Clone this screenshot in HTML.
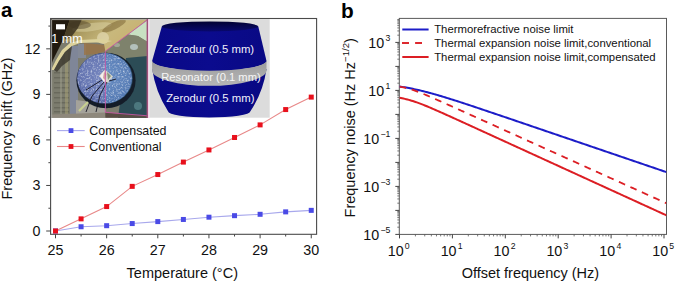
<!DOCTYPE html>
<html><head><meta charset="utf-8"><style>html,body{margin:0;padding:0;background:#fff;}body{width:675px;height:281px;overflow:hidden;}svg{display:block;}svg,text{font-family:"Liberation Sans",sans-serif;}</style></head>
<body>
<svg width="675" height="281" viewBox="0 0 675 281" font-family="Liberation Sans, sans-serif">
<rect width="675" height="281" fill="#fff"/>
<defs><radialGradient id="disk" cx="0.5" cy="0.45" r="0.55"><stop offset="0" stop-color="#7888c0"/><stop offset="0.75" stop-color="#6676b2"/><stop offset="1" stop-color="#5868a6"/></radialGradient><linearGradient id="gold" x1="0" y1="0" x2="1" y2="0.4"><stop offset="0" stop-color="#665836"/><stop offset="0.3" stop-color="#a8985e"/><stop offset="0.65" stop-color="#c8b87c"/><stop offset="1" stop-color="#c8b070"/></linearGradient><linearGradient id="leftg" x1="0" y1="0" x2="0" y2="1"><stop offset="0" stop-color="#4d4a3a"/><stop offset="1" stop-color="#6e6e68"/></linearGradient><linearGradient id="band" x1="0" y1="0" x2="0" y2="1"><stop offset="0" stop-color="#9a9a9a"/><stop offset="0.5" stop-color="#a9a9a9"/><stop offset="1" stop-color="#b6b6b6"/></linearGradient><filter id="speck" x="0" y="0" width="100%" height="100%"><feTurbulence type="fractalNoise" baseFrequency="0.55" numOctaves="2" seed="4" result="n"/><feColorMatrix in="n" type="matrix" values="0 0 0 0 0.8  0 0 0 0 0.84  0 0 0 0 0.9  1.7 0 0 0 -0.8" result="m"/><feComposite in="m" in2="SourceGraphic" operator="in"/></filter><clipPath id="photo"><rect x="51" y="19" width="96.7" height="98.7"/></clipPath><linearGradient id="body" x1="0" y1="0" x2="1" y2="0"><stop offset="0" stop-color="#090986"/><stop offset="0.5" stop-color="#0b0b8e"/><stop offset="1" stop-color="#090984"/></linearGradient><linearGradient id="body2" x1="0" y1="0" x2="1" y2="0"><stop offset="0" stop-color="#080884"/><stop offset="0.5" stop-color="#0b0b8e"/><stop offset="1" stop-color="#080882"/></linearGradient><linearGradient id="topface" x1="0" y1="0" x2="0" y2="1"><stop offset="0" stop-color="#020232"/><stop offset="1" stop-color="#08086e"/></linearGradient></defs>
<g clip-path="url(#photo)">
<rect x="51" y="19" width="97" height="99" fill="#7c7c6e"/>
<rect x="54" y="72" width="15" height="1.4" fill="#5a5a4e" opacity="0.55"/>
<rect x="54" y="77" width="15" height="1.4" fill="#5a5a4e" opacity="0.55"/>
<rect x="54" y="82" width="15" height="1.4" fill="#5a5a4e" opacity="0.55"/>
<rect x="54" y="87" width="15" height="1.4" fill="#5a5a4e" opacity="0.55"/>
<rect x="54" y="92" width="15" height="1.4" fill="#5a5a4e" opacity="0.55"/>
<rect x="54" y="97" width="15" height="1.4" fill="#5a5a4e" opacity="0.55"/>
<rect x="54" y="102" width="15" height="1.4" fill="#5a5a4e" opacity="0.55"/>
<rect x="54" y="107" width="15" height="1.4" fill="#5a5a4e" opacity="0.55"/>
<rect x="54" y="111" width="15" height="1.4" fill="#5a5a4e" opacity="0.55"/>
<rect x="60" y="60" width="2" height="54" fill="#a0a08c" opacity="0.5"/>
<rect x="65" y="52" width="3" height="62" fill="#b0a878" opacity="0.45"/>
<rect x="70" y="46" width="8" height="68" fill="#8088a0" opacity="0.85"/>
<rect x="78" y="44" width="8" height="14" fill="#8890a8" opacity="0.7"/>
<path d="M84 43 L105.4 45 V51.2 L96 54 L84 55 Z" fill="#9a7448" opacity="0.85"/>
<path d="M64 19 H147.7 L128 34.4 L105.4 51.2 L104 44 L96 41 L80 41 L70 42 L62 40 Z" fill="url(#gold)"/>
<ellipse cx="92" cy="27" rx="20" ry="4" fill="#d8d0a0" opacity="0.55" transform="rotate(-8 92 27)"/>
<ellipse cx="114" cy="26" rx="13" ry="3.5" fill="#6e5628" opacity="0.45" transform="rotate(-25 114 26)"/>
<ellipse cx="103" cy="38" rx="6" ry="6" fill="#e2d8b0" opacity="0.7"/>
<ellipse cx="80" cy="25" rx="11" ry="4" fill="#4e4028" opacity="0.45"/>
<path d="M51 70 L56 60 L62 50 L70 43 L80 40 L100 39 L112 41 L104 43 L96 42.5 L80 43 L72 46 L65 52 L59 61 L54 70 Z" fill="#dcd29c"/>
<path d="M51 19 H70 L67 28 L64 37 L61 44 L57 52 L53 60 L51 66 Z" fill="#211a10"/>
<path d="M70 19 H82 L78 28 L72 36 L66 40 L64 37 L67 28 Z" fill="#3c3220" opacity="0.85"/>
<path d="M54 70 L59 61 L65 52 L72 46 L70 60 L62 66 L57 72 Z" fill="#3a362c" opacity="0.8"/>
<path d="M147.6 19.8 L147.7 42 L138 36 L128 34.4 Z" fill="#c8e0c2"/>
<path d="M128 34.4 L138 36 L147.7 42 V58 L140 63 L120 58 L110 53 L105.4 51.2 Z" fill="#7e826c"/>
<ellipse cx="134" cy="47" rx="4" ry="3" fill="#c0d0d0" opacity="0.8"/>
<ellipse cx="117" cy="45" rx="3" ry="2" fill="#b8c0b0" opacity="0.6"/>
<path d="M126 58 L147.7 56 V118 H118 Z" fill="#2c4c56"/>
<ellipse cx="138" cy="106" rx="4" ry="4" fill="#5a8a90" opacity="0.7"/>
<path d="M76 100 L105.4 104 V113 L76 115 Z" fill="#a4a29a"/>
<path d="M51 114.5 L105.4 112.6 V118 H51 Z" fill="#8e887c"/>
<path d="M105.4 112.6 L147.7 116 V118 H105.4 Z" fill="#5a4c44"/>
<ellipse cx="106" cy="80.5" rx="29.6" ry="27.8" fill="#141c28"/>
<ellipse cx="104.6" cy="78.3" rx="27.5" ry="25.3" fill="url(#disk)"/>
<path d="M105.4 53 A27.5 25.3 0 0 1 105.4 103.6 Z" fill="#4898c8" opacity="0.32"/>
<ellipse cx="104.6" cy="78.3" rx="27" ry="24.8" fill="#000" filter="url(#speck)"/>
<path d="M99 76 L105 69.5 L113 76.5 L106.5 84 Z" fill="#d8d6cc"/>
<path d="M100 76 L104 71 L106 78 L104 82 Z" fill="#f4f0ee"/>
<path d="M104 72 L106.5 74 L105 80 L103 78 Z" fill="#c89088" opacity="0.8"/>
<path d="M107 72 L111 76 L108 80 Z" fill="#607a58" opacity="0.7"/>
<path d="M104 82 L92 96 L86 112 M107 82 L100 95 L96 112 M109 81 L116 79 M102 80 L86 90" stroke="#141420" stroke-width="0.9" fill="none"/>
<path d="M79 111 L88 102" stroke="#c8d090" stroke-width="2.2" fill="none"/>
</g>
<path d="M51.6 118 V19.6 H147.7" stroke="#b8b8b0" stroke-width="0.9" fill="none"/>
<rect x="56" y="24.2" width="9" height="5.2" fill="#fff"/>
<text x="51.3" y="42.7" font-size="12.5" fill="#fff">1 mm</text>
<path d="M147.6 19.8 L105.4 51.2 V112.3 L147.6 115.8" stroke="#cc55a6" stroke-width="1" opacity="0.85" fill="none"/>
<rect x="146.6" y="19" width="1.6" height="99" fill="#a0507a"/>
<rect x="148.2" y="19" width="1.2" height="99" fill="#f0d0e8"/>
<rect x="149.4" y="19.3" width="120.3" height="98.4" fill="#dcdcdc"/>
<path d="M161.8 26.4 L152.1 61 A57.2 9.9 0 0 0 266.5 61 L258.3 26.4 Z" fill="url(#body)"/>
<ellipse cx="210" cy="26.4" rx="48.2" ry="5" fill="url(#topface)"/>
<path d="M152.2 69 Q155.5 92 168 111.3 A41.2 6.2 0 0 0 250.4 111.3 Q263.2 92 266.5 69 Z" fill="url(#body2)"/>
<path d="M152.1 60.5 A57.2 10.3 0 0 0 266.5 60.5 L266.5 70.4 A57.2 15.4 0 0 1 152.1 70.4 Z" fill="url(#band)"/>
<text x="210" y="52.6" font-size="11.35" fill="#f0f0fa" text-anchor="middle">Zerodur (0.5 mm)</text>
<text x="211" y="80.7" font-size="11.2" fill="#f6f6f6" text-anchor="middle">Resonator (0.1 mm)</text>
<text x="210.3" y="102" font-size="11.35" fill="#f0f0fa" text-anchor="middle">Zerodur (0.5 mm)</text>
<rect x="50.6" y="18.5" width="266.0" height="215.8" fill="none" stroke="#4a4a4a" stroke-width="1.1"/>
<line x1="46.2" y1="231.00" x2="50.6" y2="231.00" stroke="#444" stroke-width="1"/>
<text x="40.4" y="235.90" font-size="14.3" text-anchor="end" fill="#111">0</text>
<line x1="46.2" y1="185.46" x2="50.6" y2="185.46" stroke="#444" stroke-width="1"/>
<text x="40.4" y="190.36" font-size="14.3" text-anchor="end" fill="#111">3</text>
<line x1="46.2" y1="139.92" x2="50.6" y2="139.92" stroke="#444" stroke-width="1"/>
<text x="40.4" y="144.82" font-size="14.3" text-anchor="end" fill="#111">6</text>
<line x1="46.2" y1="94.38" x2="50.6" y2="94.38" stroke="#444" stroke-width="1"/>
<text x="40.4" y="99.28" font-size="14.3" text-anchor="end" fill="#111">9</text>
<line x1="46.2" y1="48.84" x2="50.6" y2="48.84" stroke="#444" stroke-width="1"/>
<text x="40.4" y="53.74" font-size="14.3" text-anchor="end" fill="#111">12</text>
<line x1="48.4" y1="208.23" x2="50.6" y2="208.23" stroke="#444" stroke-width="1"/>
<line x1="48.4" y1="162.69" x2="50.6" y2="162.69" stroke="#444" stroke-width="1"/>
<line x1="48.4" y1="117.15" x2="50.6" y2="117.15" stroke="#444" stroke-width="1"/>
<line x1="48.4" y1="71.61" x2="50.6" y2="71.61" stroke="#444" stroke-width="1"/>
<line x1="48.4" y1="26.07" x2="50.6" y2="26.07" stroke="#444" stroke-width="1"/>
<line x1="55.50" y1="234.3" x2="55.50" y2="238.3" stroke="#444" stroke-width="1"/>
<text x="55.50" y="254.6" font-size="14.3" text-anchor="middle" fill="#111">25</text>
<line x1="106.65" y1="234.3" x2="106.65" y2="238.3" stroke="#444" stroke-width="1"/>
<text x="106.65" y="254.6" font-size="14.3" text-anchor="middle" fill="#111">26</text>
<line x1="157.80" y1="234.3" x2="157.80" y2="238.3" stroke="#444" stroke-width="1"/>
<text x="157.80" y="254.6" font-size="14.3" text-anchor="middle" fill="#111">27</text>
<line x1="208.95" y1="234.3" x2="208.95" y2="238.3" stroke="#444" stroke-width="1"/>
<text x="208.95" y="254.6" font-size="14.3" text-anchor="middle" fill="#111">28</text>
<line x1="260.10" y1="234.3" x2="260.10" y2="238.3" stroke="#444" stroke-width="1"/>
<text x="260.10" y="254.6" font-size="14.3" text-anchor="middle" fill="#111">29</text>
<line x1="311.25" y1="234.3" x2="311.25" y2="238.3" stroke="#444" stroke-width="1"/>
<text x="311.25" y="254.6" font-size="14.3" text-anchor="middle" fill="#111">30</text>
<line x1="81.08" y1="234.3" x2="81.08" y2="236.5" stroke="#444" stroke-width="1"/>
<line x1="132.22" y1="234.3" x2="132.22" y2="236.5" stroke="#444" stroke-width="1"/>
<line x1="183.38" y1="234.3" x2="183.38" y2="236.5" stroke="#444" stroke-width="1"/>
<line x1="234.53" y1="234.3" x2="234.53" y2="236.5" stroke="#444" stroke-width="1"/>
<line x1="285.67" y1="234.3" x2="285.67" y2="236.5" stroke="#444" stroke-width="1"/>
<text x="182.3" y="277.6" font-size="14.5" text-anchor="middle" fill="#111">Temperature (°C)</text>
<text transform="translate(12.2,128.6) rotate(-90)" font-size="14.5" text-anchor="middle" fill="#111">Frequency shift (GHz)</text>
<text x="1" y="17.2" font-size="20.5" font-weight="bold" fill="#000">a</text>
<polyline points="55.50,231.00 81.08,226.75 106.65,225.69 132.22,223.56 157.80,221.59 183.38,219.46 208.95,217.19 234.53,215.67 260.10,214.30 285.67,211.87 311.25,210.36" fill="none" stroke="#a8a8ec" stroke-width="1.1"/>
<polyline points="55.50,231.00 81.08,218.86 106.65,206.56 132.22,186.37 157.80,174.53 183.38,162.08 208.95,149.94 234.53,137.49 260.10,124.89 285.67,109.56 311.25,97.11" fill="none" stroke="#e88888" stroke-width="1.1"/>
<rect x="53.00" y="228.50" width="5" height="5" fill="#4a4ae6"/>
<rect x="78.58" y="224.25" width="5" height="5" fill="#4a4ae6"/>
<rect x="104.15" y="223.19" width="5" height="5" fill="#4a4ae6"/>
<rect x="129.72" y="221.06" width="5" height="5" fill="#4a4ae6"/>
<rect x="155.30" y="219.09" width="5" height="5" fill="#4a4ae6"/>
<rect x="180.88" y="216.96" width="5" height="5" fill="#4a4ae6"/>
<rect x="206.45" y="214.69" width="5" height="5" fill="#4a4ae6"/>
<rect x="232.03" y="213.17" width="5" height="5" fill="#4a4ae6"/>
<rect x="257.60" y="211.80" width="5" height="5" fill="#4a4ae6"/>
<rect x="283.17" y="209.37" width="5" height="5" fill="#4a4ae6"/>
<rect x="308.75" y="207.86" width="5" height="5" fill="#4a4ae6"/>
<rect x="53.00" y="228.50" width="5" height="5" fill="#e8101c"/>
<rect x="78.58" y="216.36" width="5" height="5" fill="#e8101c"/>
<rect x="104.15" y="204.06" width="5" height="5" fill="#e8101c"/>
<rect x="129.72" y="183.87" width="5" height="5" fill="#e8101c"/>
<rect x="155.30" y="172.03" width="5" height="5" fill="#e8101c"/>
<rect x="180.88" y="159.58" width="5" height="5" fill="#e8101c"/>
<rect x="206.45" y="147.44" width="5" height="5" fill="#e8101c"/>
<rect x="232.03" y="134.99" width="5" height="5" fill="#e8101c"/>
<rect x="257.60" y="122.39" width="5" height="5" fill="#e8101c"/>
<rect x="283.17" y="107.06" width="5" height="5" fill="#e8101c"/>
<rect x="308.75" y="94.61" width="5" height="5" fill="#e8101c"/>
<line x1="57" y1="130.6" x2="84.7" y2="130.6" stroke="#a8a8ec" stroke-width="1.1"/>
<rect x="68.6" y="128.2" width="4.8" height="4.8" fill="#4a4ae6"/>
<line x1="57" y1="146.5" x2="84.7" y2="146.5" stroke="#e88888" stroke-width="1.1"/>
<rect x="68.6" y="144.1" width="4.8" height="4.8" fill="#e8101c"/>
<text x="89.3" y="134.9" font-size="12.4" fill="#111">Compensated</text>
<text x="89.3" y="150.5" font-size="12.4" fill="#111">Conventional</text>
<rect x="399.3" y="18.4" width="267.2" height="216.0" fill="none" stroke="#5a5a5a" stroke-width="1"/>
<line x1="395.3" y1="234.40" x2="399.3" y2="234.40" stroke="#444" stroke-width="1"/>
<line x1="397.3" y1="227.18" x2="399.3" y2="227.18" stroke="#555" stroke-width="0.8"/>
<line x1="397.3" y1="222.95" x2="399.3" y2="222.95" stroke="#555" stroke-width="0.8"/>
<line x1="397.3" y1="219.95" x2="399.3" y2="219.95" stroke="#555" stroke-width="0.8"/>
<line x1="397.3" y1="217.62" x2="399.3" y2="217.62" stroke="#555" stroke-width="0.8"/>
<line x1="397.3" y1="215.72" x2="399.3" y2="215.72" stroke="#555" stroke-width="0.8"/>
<line x1="397.3" y1="214.12" x2="399.3" y2="214.12" stroke="#555" stroke-width="0.8"/>
<line x1="397.3" y1="212.73" x2="399.3" y2="212.73" stroke="#555" stroke-width="0.8"/>
<line x1="397.3" y1="211.50" x2="399.3" y2="211.50" stroke="#555" stroke-width="0.8"/>
<line x1="395.3" y1="210.40" x2="399.3" y2="210.40" stroke="#444" stroke-width="1"/>
<line x1="397.3" y1="203.18" x2="399.3" y2="203.18" stroke="#555" stroke-width="0.8"/>
<line x1="397.3" y1="198.95" x2="399.3" y2="198.95" stroke="#555" stroke-width="0.8"/>
<line x1="397.3" y1="195.95" x2="399.3" y2="195.95" stroke="#555" stroke-width="0.8"/>
<line x1="397.3" y1="193.62" x2="399.3" y2="193.62" stroke="#555" stroke-width="0.8"/>
<line x1="397.3" y1="191.72" x2="399.3" y2="191.72" stroke="#555" stroke-width="0.8"/>
<line x1="397.3" y1="190.12" x2="399.3" y2="190.12" stroke="#555" stroke-width="0.8"/>
<line x1="397.3" y1="188.73" x2="399.3" y2="188.73" stroke="#555" stroke-width="0.8"/>
<line x1="397.3" y1="187.50" x2="399.3" y2="187.50" stroke="#555" stroke-width="0.8"/>
<line x1="395.3" y1="186.40" x2="399.3" y2="186.40" stroke="#444" stroke-width="1"/>
<line x1="397.3" y1="179.18" x2="399.3" y2="179.18" stroke="#555" stroke-width="0.8"/>
<line x1="397.3" y1="174.95" x2="399.3" y2="174.95" stroke="#555" stroke-width="0.8"/>
<line x1="397.3" y1="171.95" x2="399.3" y2="171.95" stroke="#555" stroke-width="0.8"/>
<line x1="397.3" y1="169.62" x2="399.3" y2="169.62" stroke="#555" stroke-width="0.8"/>
<line x1="397.3" y1="167.72" x2="399.3" y2="167.72" stroke="#555" stroke-width="0.8"/>
<line x1="397.3" y1="166.12" x2="399.3" y2="166.12" stroke="#555" stroke-width="0.8"/>
<line x1="397.3" y1="164.73" x2="399.3" y2="164.73" stroke="#555" stroke-width="0.8"/>
<line x1="397.3" y1="163.50" x2="399.3" y2="163.50" stroke="#555" stroke-width="0.8"/>
<line x1="395.3" y1="162.40" x2="399.3" y2="162.40" stroke="#444" stroke-width="1"/>
<line x1="397.3" y1="155.18" x2="399.3" y2="155.18" stroke="#555" stroke-width="0.8"/>
<line x1="397.3" y1="150.95" x2="399.3" y2="150.95" stroke="#555" stroke-width="0.8"/>
<line x1="397.3" y1="147.95" x2="399.3" y2="147.95" stroke="#555" stroke-width="0.8"/>
<line x1="397.3" y1="145.62" x2="399.3" y2="145.62" stroke="#555" stroke-width="0.8"/>
<line x1="397.3" y1="143.72" x2="399.3" y2="143.72" stroke="#555" stroke-width="0.8"/>
<line x1="397.3" y1="142.12" x2="399.3" y2="142.12" stroke="#555" stroke-width="0.8"/>
<line x1="397.3" y1="140.73" x2="399.3" y2="140.73" stroke="#555" stroke-width="0.8"/>
<line x1="397.3" y1="139.50" x2="399.3" y2="139.50" stroke="#555" stroke-width="0.8"/>
<line x1="395.3" y1="138.40" x2="399.3" y2="138.40" stroke="#444" stroke-width="1"/>
<line x1="397.3" y1="131.18" x2="399.3" y2="131.18" stroke="#555" stroke-width="0.8"/>
<line x1="397.3" y1="126.95" x2="399.3" y2="126.95" stroke="#555" stroke-width="0.8"/>
<line x1="397.3" y1="123.95" x2="399.3" y2="123.95" stroke="#555" stroke-width="0.8"/>
<line x1="397.3" y1="121.62" x2="399.3" y2="121.62" stroke="#555" stroke-width="0.8"/>
<line x1="397.3" y1="119.72" x2="399.3" y2="119.72" stroke="#555" stroke-width="0.8"/>
<line x1="397.3" y1="118.12" x2="399.3" y2="118.12" stroke="#555" stroke-width="0.8"/>
<line x1="397.3" y1="116.73" x2="399.3" y2="116.73" stroke="#555" stroke-width="0.8"/>
<line x1="397.3" y1="115.50" x2="399.3" y2="115.50" stroke="#555" stroke-width="0.8"/>
<line x1="395.3" y1="114.40" x2="399.3" y2="114.40" stroke="#444" stroke-width="1"/>
<line x1="397.3" y1="107.18" x2="399.3" y2="107.18" stroke="#555" stroke-width="0.8"/>
<line x1="397.3" y1="102.95" x2="399.3" y2="102.95" stroke="#555" stroke-width="0.8"/>
<line x1="397.3" y1="99.95" x2="399.3" y2="99.95" stroke="#555" stroke-width="0.8"/>
<line x1="397.3" y1="97.62" x2="399.3" y2="97.62" stroke="#555" stroke-width="0.8"/>
<line x1="397.3" y1="95.72" x2="399.3" y2="95.72" stroke="#555" stroke-width="0.8"/>
<line x1="397.3" y1="94.12" x2="399.3" y2="94.12" stroke="#555" stroke-width="0.8"/>
<line x1="397.3" y1="92.73" x2="399.3" y2="92.73" stroke="#555" stroke-width="0.8"/>
<line x1="397.3" y1="91.50" x2="399.3" y2="91.50" stroke="#555" stroke-width="0.8"/>
<line x1="395.3" y1="90.40" x2="399.3" y2="90.40" stroke="#444" stroke-width="1"/>
<line x1="397.3" y1="83.18" x2="399.3" y2="83.18" stroke="#555" stroke-width="0.8"/>
<line x1="397.3" y1="78.95" x2="399.3" y2="78.95" stroke="#555" stroke-width="0.8"/>
<line x1="397.3" y1="75.95" x2="399.3" y2="75.95" stroke="#555" stroke-width="0.8"/>
<line x1="397.3" y1="73.62" x2="399.3" y2="73.62" stroke="#555" stroke-width="0.8"/>
<line x1="397.3" y1="71.72" x2="399.3" y2="71.72" stroke="#555" stroke-width="0.8"/>
<line x1="397.3" y1="70.12" x2="399.3" y2="70.12" stroke="#555" stroke-width="0.8"/>
<line x1="397.3" y1="68.73" x2="399.3" y2="68.73" stroke="#555" stroke-width="0.8"/>
<line x1="397.3" y1="67.50" x2="399.3" y2="67.50" stroke="#555" stroke-width="0.8"/>
<line x1="395.3" y1="66.40" x2="399.3" y2="66.40" stroke="#444" stroke-width="1"/>
<line x1="397.3" y1="59.18" x2="399.3" y2="59.18" stroke="#555" stroke-width="0.8"/>
<line x1="397.3" y1="54.95" x2="399.3" y2="54.95" stroke="#555" stroke-width="0.8"/>
<line x1="397.3" y1="51.95" x2="399.3" y2="51.95" stroke="#555" stroke-width="0.8"/>
<line x1="397.3" y1="49.62" x2="399.3" y2="49.62" stroke="#555" stroke-width="0.8"/>
<line x1="397.3" y1="47.72" x2="399.3" y2="47.72" stroke="#555" stroke-width="0.8"/>
<line x1="397.3" y1="46.12" x2="399.3" y2="46.12" stroke="#555" stroke-width="0.8"/>
<line x1="397.3" y1="44.73" x2="399.3" y2="44.73" stroke="#555" stroke-width="0.8"/>
<line x1="397.3" y1="43.50" x2="399.3" y2="43.50" stroke="#555" stroke-width="0.8"/>
<line x1="395.3" y1="42.40" x2="399.3" y2="42.40" stroke="#444" stroke-width="1"/>
<line x1="397.3" y1="35.18" x2="399.3" y2="35.18" stroke="#555" stroke-width="0.8"/>
<line x1="397.3" y1="30.95" x2="399.3" y2="30.95" stroke="#555" stroke-width="0.8"/>
<line x1="397.3" y1="27.95" x2="399.3" y2="27.95" stroke="#555" stroke-width="0.8"/>
<line x1="397.3" y1="25.62" x2="399.3" y2="25.62" stroke="#555" stroke-width="0.8"/>
<line x1="397.3" y1="23.72" x2="399.3" y2="23.72" stroke="#555" stroke-width="0.8"/>
<line x1="397.3" y1="22.12" x2="399.3" y2="22.12" stroke="#555" stroke-width="0.8"/>
<line x1="397.3" y1="20.73" x2="399.3" y2="20.73" stroke="#555" stroke-width="0.8"/>
<line x1="397.3" y1="19.50" x2="399.3" y2="19.50" stroke="#555" stroke-width="0.8"/>
<text x="390.3" y="239.50" font-size="14.3" text-anchor="end" fill="#111">10<tspan dx="1.2" dy="-6.7" font-size="8.7">−5</tspan></text>
<text x="390.3" y="191.50" font-size="14.3" text-anchor="end" fill="#111">10<tspan dx="1.2" dy="-6.7" font-size="8.7">−3</tspan></text>
<text x="390.3" y="143.50" font-size="14.3" text-anchor="end" fill="#111">10<tspan dx="1.2" dy="-6.7" font-size="8.7">−1</tspan></text>
<text x="390.3" y="95.50" font-size="14.3" text-anchor="end" fill="#111">10<tspan dx="1.2" dy="-6.7" font-size="8.7">1</tspan></text>
<text x="390.3" y="47.50" font-size="14.3" text-anchor="end" fill="#111">10<tspan dx="1.2" dy="-6.7" font-size="8.7">3</tspan></text>
<line x1="399.50" y1="234.4" x2="399.50" y2="238.4" stroke="#444" stroke-width="1"/>
<line x1="415.42" y1="234.4" x2="415.42" y2="236.4" stroke="#555" stroke-width="0.8"/>
<line x1="424.74" y1="234.4" x2="424.74" y2="236.4" stroke="#555" stroke-width="0.8"/>
<line x1="431.35" y1="234.4" x2="431.35" y2="236.4" stroke="#555" stroke-width="0.8"/>
<line x1="436.48" y1="234.4" x2="436.48" y2="236.4" stroke="#555" stroke-width="0.8"/>
<line x1="440.66" y1="234.4" x2="440.66" y2="236.4" stroke="#555" stroke-width="0.8"/>
<line x1="444.21" y1="234.4" x2="444.21" y2="236.4" stroke="#555" stroke-width="0.8"/>
<line x1="447.27" y1="234.4" x2="447.27" y2="236.4" stroke="#555" stroke-width="0.8"/>
<line x1="449.98" y1="234.4" x2="449.98" y2="236.4" stroke="#555" stroke-width="0.8"/>
<text x="398.70" y="255.5" font-size="14.3" text-anchor="middle" fill="#111">10<tspan dx="1.2" dy="-6.7" font-size="8.7">0</tspan></text>
<line x1="452.40" y1="234.4" x2="452.40" y2="238.4" stroke="#444" stroke-width="1"/>
<line x1="468.32" y1="234.4" x2="468.32" y2="236.4" stroke="#555" stroke-width="0.8"/>
<line x1="477.64" y1="234.4" x2="477.64" y2="236.4" stroke="#555" stroke-width="0.8"/>
<line x1="484.25" y1="234.4" x2="484.25" y2="236.4" stroke="#555" stroke-width="0.8"/>
<line x1="489.38" y1="234.4" x2="489.38" y2="236.4" stroke="#555" stroke-width="0.8"/>
<line x1="493.56" y1="234.4" x2="493.56" y2="236.4" stroke="#555" stroke-width="0.8"/>
<line x1="497.11" y1="234.4" x2="497.11" y2="236.4" stroke="#555" stroke-width="0.8"/>
<line x1="500.17" y1="234.4" x2="500.17" y2="236.4" stroke="#555" stroke-width="0.8"/>
<line x1="502.88" y1="234.4" x2="502.88" y2="236.4" stroke="#555" stroke-width="0.8"/>
<text x="451.60" y="255.5" font-size="14.3" text-anchor="middle" fill="#111">10<tspan dx="1.2" dy="-6.7" font-size="8.7">1</tspan></text>
<line x1="505.30" y1="234.4" x2="505.30" y2="238.4" stroke="#444" stroke-width="1"/>
<line x1="521.22" y1="234.4" x2="521.22" y2="236.4" stroke="#555" stroke-width="0.8"/>
<line x1="530.54" y1="234.4" x2="530.54" y2="236.4" stroke="#555" stroke-width="0.8"/>
<line x1="537.15" y1="234.4" x2="537.15" y2="236.4" stroke="#555" stroke-width="0.8"/>
<line x1="542.28" y1="234.4" x2="542.28" y2="236.4" stroke="#555" stroke-width="0.8"/>
<line x1="546.46" y1="234.4" x2="546.46" y2="236.4" stroke="#555" stroke-width="0.8"/>
<line x1="550.01" y1="234.4" x2="550.01" y2="236.4" stroke="#555" stroke-width="0.8"/>
<line x1="553.07" y1="234.4" x2="553.07" y2="236.4" stroke="#555" stroke-width="0.8"/>
<line x1="555.78" y1="234.4" x2="555.78" y2="236.4" stroke="#555" stroke-width="0.8"/>
<text x="504.50" y="255.5" font-size="14.3" text-anchor="middle" fill="#111">10<tspan dx="1.2" dy="-6.7" font-size="8.7">2</tspan></text>
<line x1="558.20" y1="234.4" x2="558.20" y2="238.4" stroke="#444" stroke-width="1"/>
<line x1="574.12" y1="234.4" x2="574.12" y2="236.4" stroke="#555" stroke-width="0.8"/>
<line x1="583.44" y1="234.4" x2="583.44" y2="236.4" stroke="#555" stroke-width="0.8"/>
<line x1="590.05" y1="234.4" x2="590.05" y2="236.4" stroke="#555" stroke-width="0.8"/>
<line x1="595.18" y1="234.4" x2="595.18" y2="236.4" stroke="#555" stroke-width="0.8"/>
<line x1="599.36" y1="234.4" x2="599.36" y2="236.4" stroke="#555" stroke-width="0.8"/>
<line x1="602.91" y1="234.4" x2="602.91" y2="236.4" stroke="#555" stroke-width="0.8"/>
<line x1="605.97" y1="234.4" x2="605.97" y2="236.4" stroke="#555" stroke-width="0.8"/>
<line x1="608.68" y1="234.4" x2="608.68" y2="236.4" stroke="#555" stroke-width="0.8"/>
<text x="557.40" y="255.5" font-size="14.3" text-anchor="middle" fill="#111">10<tspan dx="1.2" dy="-6.7" font-size="8.7">3</tspan></text>
<line x1="611.10" y1="234.4" x2="611.10" y2="238.4" stroke="#444" stroke-width="1"/>
<line x1="627.02" y1="234.4" x2="627.02" y2="236.4" stroke="#555" stroke-width="0.8"/>
<line x1="636.34" y1="234.4" x2="636.34" y2="236.4" stroke="#555" stroke-width="0.8"/>
<line x1="642.95" y1="234.4" x2="642.95" y2="236.4" stroke="#555" stroke-width="0.8"/>
<line x1="648.08" y1="234.4" x2="648.08" y2="236.4" stroke="#555" stroke-width="0.8"/>
<line x1="652.26" y1="234.4" x2="652.26" y2="236.4" stroke="#555" stroke-width="0.8"/>
<line x1="655.81" y1="234.4" x2="655.81" y2="236.4" stroke="#555" stroke-width="0.8"/>
<line x1="658.87" y1="234.4" x2="658.87" y2="236.4" stroke="#555" stroke-width="0.8"/>
<line x1="661.58" y1="234.4" x2="661.58" y2="236.4" stroke="#555" stroke-width="0.8"/>
<text x="610.30" y="255.5" font-size="14.3" text-anchor="middle" fill="#111">10<tspan dx="1.2" dy="-6.7" font-size="8.7">4</tspan></text>
<line x1="664.00" y1="234.4" x2="664.00" y2="238.4" stroke="#444" stroke-width="1"/>
<text x="663.20" y="255.5" font-size="14.3" text-anchor="middle" fill="#111">10<tspan dx="1.2" dy="-6.7" font-size="8.7">5</tspan></text>
<text x="530.4" y="277.8" font-size="14.5" text-anchor="middle" fill="#111">Offset frequency (Hz)</text>
<text transform="translate(355,127.8) rotate(-90)" font-size="14.5" text-anchor="middle" fill="#111">Frequency noise (Hz Hz<tspan dy="-5.8" font-size="9.6">−1/2</tspan><tspan dy="5.8">)</tspan></text>
<text x="341" y="17.6" font-size="20.8" font-weight="bold" fill="#000">b</text>
<clipPath id="bclip"><rect x="399.3" y="18.4" width="267.2" height="216.0"/></clipPath>
<g clip-path="url(#bclip)">
<polyline points="399.50,86.51 400.83,86.71 402.17,86.91 403.50,87.12 404.84,87.34 406.17,87.57 407.51,87.81 408.84,88.05 410.18,88.31 411.51,88.57 412.84,88.84 414.18,89.12 415.51,89.40 416.85,89.70 418.18,90.00 419.52,90.31 420.85,90.62 422.18,90.95 423.52,91.27 424.85,91.61 426.19,91.95 427.52,92.30 428.86,92.66 430.19,93.02 431.53,93.38 432.86,93.75 434.19,94.13 435.53,94.51 436.86,94.89 438.20,95.28 439.53,95.67 440.87,96.07 442.20,96.47 443.54,96.87 444.87,97.28 446.20,97.69 447.54,98.10 448.87,98.52 450.21,98.94 451.54,99.36 452.88,99.78 454.21,100.20 455.54,100.63 456.88,101.06 458.21,101.49 459.55,101.92 460.88,102.35 462.22,102.79 463.55,103.23 464.89,103.66 466.22,104.10 467.55,104.54 468.89,104.98 470.22,105.42 471.56,105.87 472.89,106.31 474.23,106.76 475.56,107.20 476.90,107.65 478.23,108.09 479.56,108.54 480.90,108.99 482.23,109.44 483.57,109.88 484.90,110.33 486.24,110.78 487.57,111.23 488.90,111.68 490.24,112.13 491.57,112.58 492.91,113.03 494.24,113.48 495.58,113.94 496.91,114.39 498.25,114.84 499.58,115.29 500.91,115.74 502.25,116.20 503.58,116.65 504.92,117.10 506.25,117.56 507.59,118.01 508.92,118.46 510.26,118.91 511.59,119.37 512.92,119.82 514.26,120.28 515.59,120.73 516.93,121.18 518.26,121.64 519.60,122.09 520.93,122.54 522.27,123.00 523.60,123.45 524.93,123.91 526.27,124.36 527.60,124.82 528.94,125.27 530.27,125.72 531.61,126.18 532.94,126.63 534.27,127.09 535.61,127.54 536.94,128.00 538.28,128.45 539.61,128.90 540.95,129.36 542.28,129.81 543.62,130.27 544.95,130.72 546.28,131.18 547.62,131.63 548.95,132.09 550.29,132.54 551.62,133.00 552.96,133.45 554.29,133.90 555.63,134.36 556.96,134.81 558.29,135.27 559.63,135.72 560.96,136.18 562.30,136.63 563.63,137.09 564.97,137.54 566.30,138.00 567.63,138.45 568.97,138.91 570.30,139.36 571.64,139.82 572.97,140.27 574.31,140.73 575.64,141.18 576.98,141.63 578.31,142.09 579.64,142.54 580.98,143.00 582.31,143.45 583.65,143.91 584.98,144.36 586.32,144.82 587.65,145.27 588.99,145.73 590.32,146.18 591.65,146.64 592.99,147.09 594.32,147.55 595.66,148.00 596.99,148.46 598.33,148.91 599.66,149.37 600.99,149.82 602.33,150.28 603.66,150.73 605.00,151.18 606.33,151.64 607.67,152.09 609.00,152.55 610.34,153.00 611.67,153.46 613.00,153.91 614.34,154.37 615.67,154.82 617.01,155.28 618.34,155.73 619.68,156.19 621.01,156.64 622.35,157.10 623.68,157.55 625.01,158.01 626.35,158.46 627.68,158.92 629.02,159.37 630.35,159.83 631.69,160.28 633.02,160.73 634.35,161.19 635.69,161.64 637.02,162.10 638.36,162.55 639.69,163.01 641.03,163.46 642.36,163.92 643.70,164.37 645.03,164.83 646.36,165.28 647.70,165.74 649.03,166.19 650.37,166.65 651.70,167.10 653.04,167.56 654.37,168.01 655.71,168.47 657.04,168.92 658.37,169.38 659.71,169.83 661.04,170.29 662.38,170.74 663.71,171.19 665.05,171.65 666.38,172.10" fill="none" stroke="#1c1cc8" stroke-width="2"/>
<polyline points="399.50,97.81 400.83,98.05 402.17,98.31 403.50,98.59 404.84,98.88 406.17,99.20 407.51,99.54 408.84,99.90 410.18,100.27 411.51,100.67 412.84,101.08 414.18,101.51 415.51,101.96 416.85,102.42 418.18,102.90 419.52,103.39 420.85,103.89 422.18,104.41 423.52,104.93 424.85,105.46 426.19,106.01 427.52,106.55 428.86,107.11 430.19,107.67 431.53,108.24 432.86,108.81 434.19,109.39 435.53,109.97 436.86,110.56 438.20,111.14 439.53,111.73 440.87,112.33 442.20,112.92 443.54,113.52 444.87,114.12 446.20,114.72 447.54,115.32 448.87,115.92 450.21,116.52 451.54,117.13 452.88,117.73 454.21,118.34 455.54,118.94 456.88,119.55 458.21,120.16 459.55,120.76 460.88,121.37 462.22,121.98 463.55,122.59 464.89,123.20 466.22,123.80 467.55,124.41 468.89,125.02 470.22,125.63 471.56,126.24 472.89,126.85 474.23,127.46 475.56,128.07 476.90,128.68 478.23,129.29 479.56,129.90 480.90,130.51 482.23,131.12 483.57,131.73 484.90,132.34 486.24,132.95 487.57,133.56 488.90,134.17 490.24,134.78 491.57,135.39 492.91,136.00 494.24,136.61 495.58,137.22 496.91,137.83 498.25,138.44 499.58,139.05 500.91,139.66 502.25,140.27 503.58,140.88 504.92,141.49 506.25,142.10 507.59,142.71 508.92,143.32 510.26,143.93 511.59,144.54 512.92,145.15 514.26,145.76 515.59,146.37 516.93,146.98 518.26,147.59 519.60,148.20 520.93,148.81 522.27,149.42 523.60,150.03 524.93,150.64 526.27,151.25 527.60,151.86 528.94,152.47 530.27,153.08 531.61,153.69 532.94,154.30 534.27,154.91 535.61,155.52 536.94,156.13 538.28,156.74 539.61,157.35 540.95,157.96 542.28,158.57 543.62,159.18 544.95,159.79 546.28,160.40 547.62,161.01 548.95,161.62 550.29,162.23 551.62,162.84 552.96,163.45 554.29,164.06 555.63,164.67 556.96,165.28 558.29,165.89 559.63,166.50 560.96,167.11 562.30,167.72 563.63,168.33 564.97,168.94 566.30,169.55 567.63,170.16 568.97,170.77 570.30,171.38 571.64,171.99 572.97,172.60 574.31,173.21 575.64,173.82 576.98,174.43 578.31,175.04 579.64,175.65 580.98,176.26 582.31,176.87 583.65,177.48 584.98,178.10 586.32,178.71 587.65,179.32 588.99,179.93 590.32,180.54 591.65,181.15 592.99,181.76 594.32,182.37 595.66,182.98 596.99,183.59 598.33,184.20 599.66,184.81 600.99,185.42 602.33,186.03 603.66,186.64 605.00,187.25 606.33,187.86 607.67,188.47 609.00,189.08 610.34,189.69 611.67,190.30 613.00,190.91 614.34,191.52 615.67,192.13 617.01,192.74 618.34,193.35 619.68,193.96 621.01,194.57 622.35,195.18 623.68,195.79 625.01,196.40 626.35,197.01 627.68,197.62 629.02,198.23 630.35,198.84 631.69,199.45 633.02,200.06 634.35,200.67 635.69,201.28 637.02,201.89 638.36,202.50 639.69,203.11 641.03,203.72 642.36,204.33 643.70,204.94 645.03,205.55 646.36,206.16 647.70,206.77 649.03,207.38 650.37,207.99 651.70,208.60 653.04,209.21 654.37,209.82 655.71,210.43 657.04,211.04 658.37,211.65 659.71,212.26 661.04,212.87 662.38,213.48 663.71,214.09 665.05,214.70 666.38,215.31" fill="none" stroke="#dc1e24" stroke-width="2"/>
<polyline points="399.50,86.63 400.83,86.86 402.17,87.12 403.50,87.39 404.84,87.69 406.17,88.02 407.51,88.36 408.84,88.73 410.18,89.13 411.51,89.54 412.84,89.97 414.18,90.43 415.51,90.89 416.85,91.38 418.18,91.88 419.52,92.39 420.85,92.91 422.18,93.45 423.52,93.99 424.85,94.54 426.19,95.10 427.52,95.66 428.86,96.23 430.19,96.80 431.53,97.38 432.86,97.96 434.19,98.55 435.53,99.13 436.86,99.72 438.20,100.31 439.53,100.91 440.87,101.50 442.20,102.09 443.54,102.69 444.87,103.29 446.20,103.89 447.54,104.48 448.87,105.08 450.21,105.68 451.54,106.28 452.88,106.88 454.21,107.48 455.54,108.08 456.88,108.69 458.21,109.29 459.55,109.89 460.88,110.49 462.22,111.09 463.55,111.69 464.89,112.30 466.22,112.90 467.55,113.50 468.89,114.10 470.22,114.70 471.56,115.31 472.89,115.91 474.23,116.51 475.56,117.11 476.90,117.71 478.23,118.32 479.56,118.92 480.90,119.52 482.23,120.12 483.57,120.73 484.90,121.33 486.24,121.93 487.57,122.53 488.90,123.14 490.24,123.74 491.57,124.34 492.91,124.94 494.24,125.54 495.58,126.15 496.91,126.75 498.25,127.35 499.58,127.95 500.91,128.56 502.25,129.16 503.58,129.76 504.92,130.36 506.25,130.97 507.59,131.57 508.92,132.17 510.26,132.77 511.59,133.38 512.92,133.98 514.26,134.58 515.59,135.18 516.93,135.79 518.26,136.39 519.60,136.99 520.93,137.59 522.27,138.19 523.60,138.80 524.93,139.40 526.27,140.00 527.60,140.60 528.94,141.21 530.27,141.81 531.61,142.41 532.94,143.01 534.27,143.62 535.61,144.22 536.94,144.82 538.28,145.42 539.61,146.03 540.95,146.63 542.28,147.23 543.62,147.83 544.95,148.43 546.28,149.04 547.62,149.64 548.95,150.24 550.29,150.84 551.62,151.45 552.96,152.05 554.29,152.65 555.63,153.25 556.96,153.86 558.29,154.46 559.63,155.06 560.96,155.66 562.30,156.27 563.63,156.87 564.97,157.47 566.30,158.07 567.63,158.68 568.97,159.28 570.30,159.88 571.64,160.48 572.97,161.08 574.31,161.69 575.64,162.29 576.98,162.89 578.31,163.49 579.64,164.10 580.98,164.70 582.31,165.30 583.65,165.90 584.98,166.51 586.32,167.11 587.65,167.71 588.99,168.31 590.32,168.92 591.65,169.52 592.99,170.12 594.32,170.72 595.66,171.33 596.99,171.93 598.33,172.53 599.66,173.13 600.99,173.73 602.33,174.34 603.66,174.94 605.00,175.54 606.33,176.14 607.67,176.75 609.00,177.35 610.34,177.95 611.67,178.55 613.00,179.16 614.34,179.76 615.67,180.36 617.01,180.96 618.34,181.57 619.68,182.17 621.01,182.77 622.35,183.37 623.68,183.97 625.01,184.58 626.35,185.18 627.68,185.78 629.02,186.38 630.35,186.99 631.69,187.59 633.02,188.19 634.35,188.79 635.69,189.40 637.02,190.00 638.36,190.60 639.69,191.20 641.03,191.81 642.36,192.41 643.70,193.01 645.03,193.61 646.36,194.22 647.70,194.82 649.03,195.42 650.37,196.02 651.70,196.62 653.04,197.23 654.37,197.83 655.71,198.43 657.04,199.03 658.37,199.64 659.71,200.24 661.04,200.84 662.38,201.44 663.71,202.05 665.05,202.65 666.38,203.25" fill="none" stroke="#dc1e24" stroke-width="1.8" stroke-dasharray="6.8 5.8"/>
</g>
<line x1="402.3" y1="29.5" x2="428.6" y2="29.5" stroke="#1c1cc8" stroke-width="2"/>
<line x1="402" y1="43" x2="409" y2="43" stroke="#dc1e24" stroke-width="1.9"/><line x1="415.1" y1="43" x2="422" y2="43" stroke="#dc1e24" stroke-width="1.9"/>
<line x1="402.3" y1="57" x2="428.6" y2="57" stroke="#dc1e24" stroke-width="2"/>
<text x="434.2" y="33.4" font-size="11.35" fill="#111">Thermorefractive noise limit</text>
<text x="434.2" y="46.6" font-size="11.35" fill="#111">Thermal expansion noise limit,conventional</text>
<text x="434.2" y="61.2" font-size="11.35" fill="#111">Thermal expansion noise limit,compensated</text>
</svg>
</body></html>
